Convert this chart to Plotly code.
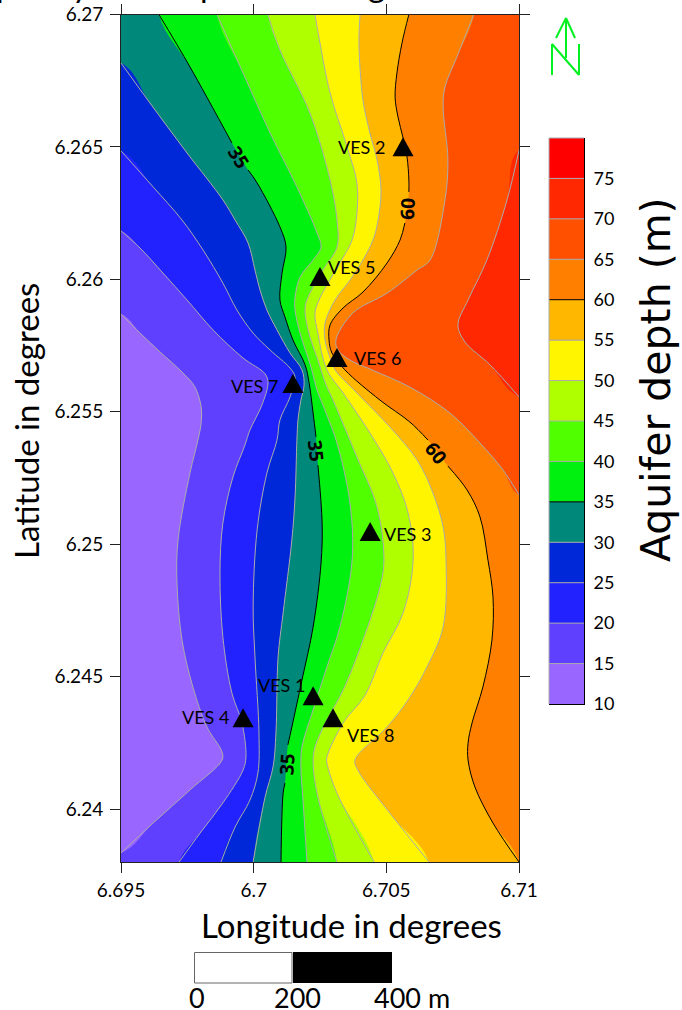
import plotly.graph_objects as go

W, H = 682, 1010
LON_MIN, LON_MAX = 6.695, 6.71
LAT_MIN, LAT_MAX = 6.238, 6.27

levels = [10, 15, 20, 25, 30, 35, 40, 45, 50, 55, 60, 65, 70, 75]
band_colors = ["#9966FF", "#6040FF", "#2222FF", "#0028D8", "#00887A", "#00F010", "#50FF00",
               "#B0FF00", "#FFF500", "#FFB700", "#FF8000", "#FF5000", "#FF2800", "#FF0000"]

lon_15 = [6.695, 6.69572, 6.69647, 6.69734, 6.69779, 6.69802, 6.69802, 6.69790, 6.69760, 6.69715, 6.69711,
          6.69730, 6.69771, 6.69824, 6.69881, 6.69881, 6.69760, 6.69621, 6.695]
lat_15 = [6.25869, 6.25797, 6.25726, 6.25646, 6.25593, 6.25518, 6.25458, 6.25393, 6.25269, 6.25016, 6.24853,
          6.24638, 6.24461, 6.24310, 6.24215, 6.24185, 6.24072, 6.23947, 6.23834]

lon_20 = [6.695, 6.69572, 6.69658, 6.69749, 6.69847, 6.69960, 6.70043, 6.70054, 6.70031, 6.69986, 6.69967,
          6.69922, 6.69884, 6.69873, 6.69884, 6.69918, 6.69956, 6.69971, 6.69960, 6.69884, 6.69798, 6.69719]
lat_20 = [6.26183, 6.26118, 6.26024, 6.25922, 6.25809, 6.25703, 6.25643, 6.25609, 6.25525, 6.25431, 6.25374,
          6.25254, 6.25080, 6.24891, 6.24649, 6.24438, 6.24325, 6.24196, 6.24147, 6.24023, 6.23909, 6.238]

lon_25 = [6.695, 6.69621, 6.69730, 6.69809, 6.69884, 6.69937, 6.69998, 6.70062, 6.70137, 6.70156, 6.70137,
          6.70099, 6.70088, 6.70050, 6.70013, 6.69998, 6.70005, 6.70020, 6.70016, 6.69986, 6.69930, 6.69877]
lat_25 = [6.26485, 6.26349, 6.26224, 6.26111, 6.25986, 6.25884, 6.25797, 6.25733, 6.25665, 6.25631, 6.25556,
          6.25469, 6.25393, 6.25269, 6.25053, 6.24763, 6.24574, 6.24287, 6.24136, 6.24034, 6.23932, 6.238]

lon_30 = [6.695, 6.69609, 6.69749, 6.69884, 6.69930, 6.69979, 6.70005, 6.70024, 6.70050, 6.70088, 6.70137,
          6.70182, 6.70190, 6.70178, 6.70167, 6.70163, 6.70156, 6.70144, 6.70111, 6.70092, 6.70084, 6.70073,
          6.70043, 6.69998]
lat_30 = [6.26817, 6.26666, 6.26477, 6.26300, 6.26224, 6.26137, 6.26035, 6.25960, 6.25884, 6.25809, 6.25722,
          6.25658, 6.25601, 6.25544, 6.25469, 6.25393, 6.25178, 6.25016, 6.24740, 6.24574, 6.24287, 6.24159,
          6.24045, 6.238]

# None marks the break the contour makes around its label
lon_35 = [6.69643, 6.69760, 6.69918, None, 6.69979, 6.70013, 6.70099, 6.70122, 6.70107, 6.70099, 6.70118,
          6.70148, 6.70194, 6.70209, 6.70224, 6.70235, None, 6.70242, 6.70258, 6.70254, 6.70224, 6.70182,
          6.70144, 6.70129, None, 6.70118, 6.70111, 6.70103]
lat_35 = [6.27, 6.26802, 6.26515, None, 6.26413, 6.26364, 6.26198, 6.26122, 6.26024, 6.25922, 6.25858,
          6.25771, 6.25677, 6.25609, 6.25495, 6.25405, None, 6.25299, 6.25080, 6.24929, 6.24687, 6.24487,
          6.24310, 6.24242, None, 6.24098, 6.24060, 6.238]

lon_40 = [6.69862, 6.69960, 6.70062, 6.70163, 6.70239, 6.70254, 6.70224, 6.70175, 6.70156, 6.70156, 6.70175,
          6.70216, 6.70239, 6.70273, 6.70314, 6.70363, 6.70371, 6.70325, 6.70276, 6.70224, 6.70182,
          6.70178, 6.70186, 6.70201]
lat_40 = [6.27, 6.26779, 6.26553, 6.26349, 6.26175, 6.26122, 6.26073, 6.26009, 6.25933, 6.25884, 6.25797,
          6.25669, 6.25582, 6.25495, 6.25382, 6.25155, 6.24940, 6.24687, 6.24536, 6.24374, 6.24234,
          6.24159, 6.24034, 6.238]

lon_45 = [6.70054, 6.70099, 6.70212, 6.70288, 6.70314, 6.70314, 6.70261, 6.70212, 6.70194, 6.70205, 6.70242,
          6.70273, 6.70299, 6.70389, 6.70465, 6.70491, 6.70476, 6.70412, 6.70337, 6.70276, 6.70231,
          6.70224, 6.70242, 6.70314]
lat_45 = [6.27, 6.26866, 6.26628, 6.26375, 6.26224, 6.26122, 6.26035, 6.25948, 6.25896, 6.25809, 6.25695,
          6.25601, 6.25544, 6.25329, 6.25140, 6.24940, 6.24838, 6.24638, 6.24449, 6.24336, 6.24234,
          6.24174, 6.24045, 6.238]

lon_50 = [6.70231, 6.70250, 6.70288, 6.70352, 6.70389, 6.70389, 6.70371, 6.70325, 6.70250, 6.70231, 6.70242,
          6.70276, 6.70337, 6.70438, 6.70525, 6.70582, 6.70601, 6.70563, 6.70487, 6.70420, 6.70337, 6.70276, 6.70276,
          6.70314, 6.70454]
lat_50 = [6.27, 6.26892, 6.26704, 6.26500, 6.26364, 6.26250, 6.26149, 6.26062, 6.25930, 6.25873, 6.25797,
          6.25658, 6.25571, 6.25420, 6.25269, 6.25118, 6.24940, 6.24740, 6.24589, 6.24430, 6.24325, 6.24196, 6.24174,
          6.24060, 6.238]

lon_55 = [6.70401, 6.70397, 6.70412, 6.70438, 6.70465, 6.70480, 6.70469, 6.70450, 6.70412, 6.70363, 6.70307,
          6.70269, 6.70269, 6.70291, 6.70307, 6.70389, 6.70514, 6.70616, 6.70676, 6.70714, 6.70725, 6.70714,
          6.70653, 6.70582, 6.70503, 6.70382, 6.70393, 6.70525, 6.70661]
lat_55 = [6.27, 6.26892, 6.26677, 6.26553, 6.26451, 6.26337, 6.26224, 6.26149, 6.26073, 6.25997, 6.25922,
          6.25835, 6.25771, 6.25695, 6.25658, 6.25571, 6.25442, 6.25318, 6.25193, 6.25065, 6.24940, 6.24687,
          6.24536, 6.24412, 6.24310, 6.24185, 6.24147, 6.23970, 6.238]

lon_60 = [6.70585, 6.70559, 6.70540, 6.70533, 6.70544, 6.70563, 6.70578, 6.70585, 6.70585, None, 6.70570,
          6.70552, 6.70503, 6.70412, 6.70337, 6.70288, 6.70284, 6.70295, 6.70344, 6.70476, 6.70589, 6.70657,
          None, 6.70732, 6.70804, 6.70853, 6.70883, 6.70902, 6.70898, 6.70864, 6.70823, 6.70808, 6.70808,
          6.70834, 6.70902, 6.71]
lat_60 = [6.27, 6.26892, 6.26779, 6.26688, 6.26613, 6.26534, 6.26462, 6.26375, 6.26330, None, 6.26213,
          6.26149, 6.26062, 6.25952, 6.25892, 6.25828, 6.25771, 6.25722, 6.25658, 6.25544, 6.25461, 6.25393,
          None, 6.25295, 6.25205, 6.25103, 6.24940, 6.24800, 6.24638, 6.24461, 6.24325, 6.24249, 6.24185,
          6.24083, 6.23947, 6.238]

lon_65 = [6.70830, 6.70766, 6.70721, 6.70714, 6.70732, 6.70721, 6.70665, 6.70616, 6.70503, 6.70374, 6.70310,
          6.70318, 6.70363, 6.70446, 6.70589, 6.70740, 6.70853, 6.70940, 6.71]
lat_65 = [6.27, 6.26840, 6.26726, 6.26651, 6.26451, 6.26300, 6.26073, 6.26035, 6.25948, 6.25873, 6.25771,
          6.25733, 6.25695, 6.25658, 6.25593, 6.25495, 6.25382, 6.25280, 6.25186]

lon_70 = [6.71, 6.70955, 6.70879, 6.70808, 6.70770, 6.70797, 6.70891, 6.71]
lat_70 = [6.26488, 6.26300, 6.26073, 6.25922, 6.25828, 6.25763, 6.25677, 6.25556]

isolines = {15: (lon_15, lat_15), 20: (lon_20, lat_20), 25: (lon_25, lat_25), 30: (lon_30, lat_30),
            35: (lon_35, lat_35), 40: (lon_40, lat_40), 45: (lon_45, lat_45), 50: (lon_50, lat_50),
            55: (lon_55, lat_55), 60: (lon_60, lat_60), 65: (lon_65, lat_65), 70: (lon_70, lat_70)}
corners_by_level = {15: "BL BR TR TL", 20: "BR TR TL", 25: "BR TR TL", 30: "BR TR TL", 35: "BR TR", 40: "BR TR",
                    45: "BR TR", 50: "BR TR", 55: "BR TR", 60: "BR TR", 65: "TR", 70: ""}
black_levels = [35, 60]

ves_names = ["VES 1", "VES 2", "VES 3", "VES 4", "VES 5", "VES 6", "VES 7", "VES 8"]
ves_lon = [6.70224, 6.70563, 6.70439, 6.69960, 6.70250, 6.70314, 6.70148, 6.70299]
ves_lat = [6.24413, 6.26486, 6.25033, 6.24330, 6.25996, 6.25690, 6.25592, 6.24330]
ves_label_lon = [6.70103, 6.70405, 6.70578, 6.69817, 6.70367, 6.70465, 6.70005, 6.70439]
ves_label_lat = [6.24468, 6.26500, 6.25038, 6.24347, 6.26047, 6.25703, 6.25597, 6.24279]

contour_labels = ["35", "60", "35", "60", "35"]
contour_label_lon = [6.69946, 6.70578, 6.70235, 6.70687, 6.70126]
contour_label_lat = [6.26460, 6.26267, 6.25352, 6.25344, 6.24170]
contour_label_angle = [58, -88, 84, 52, -86]

x_ticks = [6.695, 6.7, 6.705, 6.71]
x_tick_text = ["6.695", "6.7", "6.705", "6.71"]
y_ticks = [6.24, 6.245, 6.25, 6.255, 6.26, 6.265, 6.27]
y_tick_text = ["6.24", "6.245", "6.25", "6.255", "6.26", "6.265", "6.27"]

TEXT_FONT = "Lato"
OUT = 0.004
SMOOTH = 1.0


def fx(px):
    return px / W


def fy(py):
    return 1 - py / H


def outward(lon, lat):
    if lat <= LAT_MIN:
        return lon, lat - OUT
    if lat >= LAT_MAX:
        return lon, lat + OUT
    if lon <= LON_MIN:
        return lon - OUT, lat
    return lon + OUT, lat


CORNERS = {"BL": (LON_MIN - OUT, LAT_MIN - OUT), "BR": (LON_MAX + OUT, LAT_MIN - OUT),
           "TR": (LON_MAX + OUT, LAT_MAX + OUT), "TL": (LON_MIN - OUT, LAT_MAX + OUT)}

fig = go.Figure()

for level, (lons, lats) in isolines.items():
    pts = [(a, b) for a, b in zip(lons, lats) if a is not None]
    ring = pts + [outward(*pts[-1])] + [CORNERS[c] for c in corners_by_level[level].split()] + [outward(*pts[0])]
    fig.add_trace(go.Scatter(
        x=[p[0] for p in ring] + [ring[0][0]], y=[p[1] for p in ring] + [ring[0][1]],
        mode="lines", fill="toself", fillcolor=band_colors[levels.index(level)],
        line=dict(width=0, shape="spline", smoothing=SMOOTH), hoverinfo="skip", showlegend=False))

for level, (lons, lats) in isolines.items():
    fig.add_trace(go.Scatter(
        x=lons, y=lats, mode="lines", connectgaps=False,
        line=dict(color="black" if level in black_levels else "#ABABAB", width=1, shape="spline", smoothing=SMOOTH),
        hoverinfo="skip", showlegend=False))

fig.add_trace(go.Scatter(
    x=ves_lon, y=ves_lat, mode="markers", showlegend=False,
    marker=dict(symbol="triangle-up", size=14, color="black")))
# the stations' triangles are taller than Plotly's symbol: pixel-sized shapes anchored on the same points
for a, b in zip(ves_lon, ves_lat):
    fig.add_shape(type="path", xref="x", yref="y", xsizemode="pixel", ysizemode="pixel", xanchor=a, yanchor=b,
                  path="M -10.5 -5.5 L 10.5 -5.5 L 0 13.5 Z", fillcolor="black", line=dict(width=0))

# colour bar
fig.add_trace(go.Bar(
    x=["depth"] * len(levels), y=[5] * len(levels), base=levels, width=1,
    marker=dict(color=band_colors, line=dict(width=0)), xaxis="x2", yaxis="y2", showlegend=False, hoverinfo="skip"))
for level in levels[1:]:
    fig.add_shape(type="line", xref="x2 domain", yref="y2", x0=0, x1=1, y0=level, y1=level,
                  line=dict(color="black" if level in black_levels else "#ABABAB", width=1))

fig.update_layout(
    width=W, height=H, margin=dict(l=0, r=0, t=0, b=0, autoexpand=False), autosize=False,
    paper_bgcolor="white", plot_bgcolor=band_colors[0], showlegend=False, barmode="overlay",
    font=dict(family=TEXT_FONT, color="black"),
    xaxis=dict(domain=[fx(121), fx(519)], range=[LON_MIN, LON_MAX], tickvals=x_ticks, ticktext=x_tick_text,
               ticks="outside", ticklen=10, tickwidth=1, tickcolor="#222", showline=True, linecolor="#222",
               linewidth=1, mirror="ticks", showgrid=False, zeroline=False, tickfont=dict(size=19),
               ticklabelstandoff=1, anchor="y", automargin=False),
    yaxis=dict(domain=[fy(862), fy(14.5)], range=[LAT_MIN, LAT_MAX], tickvals=y_ticks, ticktext=y_tick_text,
               ticks="outside", ticklen=10, tickwidth=1, tickcolor="#222", showline=True, linecolor="#222",
               linewidth=1, mirror="ticks", showgrid=False, zeroline=False, tickfont=dict(size=19),
               ticklabelstandoff=3, anchor="x", automargin=False),
    xaxis2=dict(domain=[fx(549), fx(584)], anchor="y2", showticklabels=False, ticks="", showgrid=False,
                zeroline=False, showline=True, linecolor="black", linewidth=1, fixedrange=True),
    yaxis2=dict(domain=[fy(704), fy(138)], anchor="x2", side="right", range=[10, 80], tickvals=levels,
                ticks="", showgrid=False, zeroline=False, showline=True, linecolor="black", linewidth=1,
                tickfont=dict(size=18), ticklabelstandoff=5, fixedrange=True),
)


def ptext(px, py, text, size, family=TEXT_FONT, angle=0):
    return dict(x=fx(px), y=fy(py), xref="paper", yref="paper", xanchor="center", yanchor="middle", text=text,
                showarrow=False, textangle=angle, font=dict(size=size, family=family))


anns = []
for name, a, b in zip(ves_names, ves_label_lon, ves_label_lat):
    anns.append(dict(x=a, y=b, xref="x", yref="y", text=name, showarrow=False, xanchor="center", yanchor="middle",
                     font=dict(size=18, family=TEXT_FONT)))
for t, a, b, ang in zip(contour_labels, contour_label_lon, contour_label_lat, contour_label_angle):
    anns.append(dict(x=a, y=b, xref="x", yref="y", text="<b>" + t + "</b>", showarrow=False, textangle=ang,
                     xanchor="center", yanchor="middle", font=dict(size=19, family="Open Sans")))
anns += [
    ptext(351, 925, "Longitude in degrees", 33),
    ptext(26, 421, "Latitude in degrees", 33, angle=-90),
    ptext(656, 380, "Aquifer depth (m)", 41, family="DejaVu Sans", angle=-90),
    ptext(197, 997, "0", 27),
    ptext(297, 997, "200", 27),
    ptext(412, 997, "400 m", 27),
]
for t, px in zip("pypg", [5, 80, 209, 377]):
    anns.append(ptext(px, -16, t, 33))
fig.update_layout(annotations=anns)

# scale bar
fig.add_shape(type="rect", xref="paper", yref="paper", x0=fx(194.5), x1=fx(292), y0=fy(983), y1=fy(952.5),
              fillcolor="white", line=dict(color="#666", width=1))
fig.add_shape(type="rect", xref="paper", yref="paper", x0=fx(293), x1=fx(392), y0=fy(983), y1=fy(952),
              fillcolor="black", line=dict(color="black", width=0))


# north arrow
def seg(px0, py0, px1, py1):
    fig.add_shape(type="line", xref="paper", yref="paper", x0=fx(px0), y0=fy(py0), x1=fx(px1), y1=fy(py1),
                  line=dict(color="#00F020", width=2))


seg(566, 18, 556, 38)
seg(566, 18, 575, 38)
seg(566, 18, 566, 58)
seg(552, 75, 552, 44)
seg(552, 44, 579, 75)
seg(579, 75, 579, 44)
# gray edges of the colour bar
seg_col = dict(color="#ABABAB", width=1)
fig.add_shape(type="line", xref="paper", yref="paper", x0=fx(549), x1=fx(549), y0=fy(138), y1=fy(704), line=seg_col)
fig.add_shape(type="line", xref="paper", yref="paper", x0=fx(549), x1=fx(584), y0=fy(138), y1=fy(138), line=seg_col)

fig.write_html("out.html", config=dict(displayModeBar=False),
               post_script="document.body.style.margin='0';document.body.style.overflow='hidden';")
